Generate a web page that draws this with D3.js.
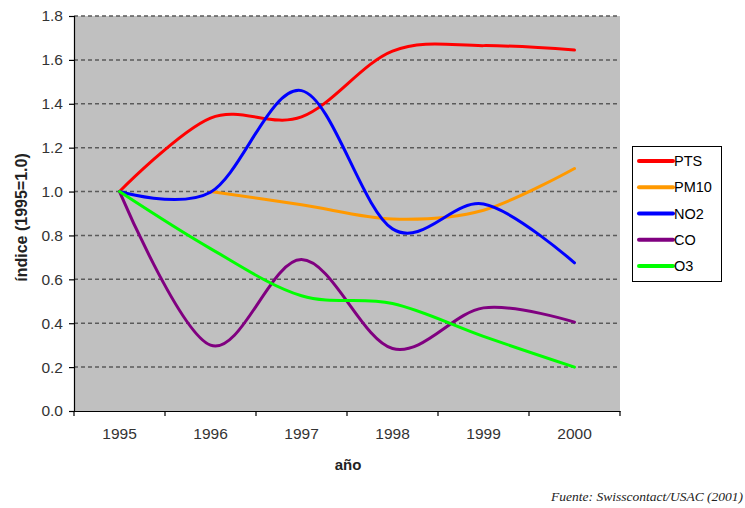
<!DOCTYPE html>
<html>
<head>
<meta charset="utf-8">
<script src="https://cdn.jsdelivr.net/npm/d3@7"></script>
<style>
  html, body { margin: 0; padding: 0; background: #fff; }
  svg { display: block; }
</style>
</head>
<body>
<svg id="chart" width="745" height="508"></svg>
<script>
// ---- data ----
const years = ["1995", "1996", "1997", "1998", "1999", "2000"];
const PTS  = [1.0, 1.335, 1.34, 1.64, 1.665, 1.645];
const PM10 = [null, 1.0, 0.94, 0.875, 0.915, 1.105];
const NO2  = [1.0, 0.997, 1.46, 0.83, 0.943, 0.675];
const CO   = [1.0, 0.30, 0.69, 0.285, 0.47, 0.405];
const O3   = [1.0, 0.74, 0.525, 0.49, 0.34, 0.20];
const seriesNames = ["PTS", "PM10", "NO2", "CO", "O3"];
const seriesColors = ["#ff0000", "#ff9900", "#0000ff", "#800080", "#00ff00"];
const yTicks = [0, 0.2, 0.4, 0.6, 0.8, 1.0, 1.2, 1.4, 1.6, 1.8];
const yTitle = "índice (1995=1.0)";
const xTitle = "año";
const sourceText = "Fuente: Swisscontact/USAC (2001)";

const seriesValues = [PTS, PM10, NO2, CO, O3];

const SANS = "'Liberation Sans', Arial, sans-serif";
const SERIF = "'Liberation Serif', 'Times New Roman', serif";

// ---- layout ----
const svg = d3.select("#chart");
const plot = { left: 74, right: 620, top: 16, bottom: 411 };

const x = d3.scaleBand().domain(years).range([plot.left, plot.right]).padding(0);
const y = d3.scaleLinear().domain([0, 1.8]).range([plot.bottom, plot.top]);
const cx = d => x(d) + x.bandwidth() / 2;

// plot background
svg.append("rect")
  .attr("x", plot.left).attr("y", plot.top)
  .attr("width", plot.right - plot.left).attr("height", plot.bottom - plot.top)
  .attr("fill", "#c0c0c0");

// gridlines
svg.append("g").selectAll("line")
  .data(yTicks.filter(t => t > 0))
  .join("line")
  .attr("x1", plot.left).attr("x2", plot.right)
  .attr("y1", d => y(d)).attr("y2", d => y(d))
  .attr("stroke", "#5a5a5a")
  .attr("stroke-width", 1.5)
  .attr("stroke-dasharray", "4,3");

// y axis
const yAxis = d3.axisLeft(y).tickValues(yTicks).tickFormat(d3.format(".1f")).tickSize(5).tickPadding(6);
const gy = svg.append("g").attr("transform", `translate(${plot.left},0)`).call(yAxis);
gy.select(".domain").attr("stroke", "#000").attr("stroke-width", 1.2);
gy.selectAll(".tick line").attr("stroke", "#000").attr("stroke-width", 1.2);
gy.selectAll(".tick text").style("font-size", "15.5px").style("font-family", SANS).attr("fill", "#333");

// x axis (labels centred on categories, ticks on boundaries)
const xAxis = d3.axisBottom(x).tickSize(0).tickPadding(17);
const gx = svg.append("g").attr("transform", `translate(0,${plot.bottom})`).call(xAxis);
gx.select(".domain").attr("stroke", "#000").attr("stroke-width", 1.2);
gx.selectAll(".tick text").style("font-size", "15.5px").style("font-family", SANS).attr("fill", "#333");
const boundaries = years.map(d => x(d)).concat([x(years[years.length - 1]) + x.bandwidth()]);
svg.append("g").selectAll("line")
  .data(boundaries)
  .join("line")
  .attr("x1", d => d).attr("x2", d => d)
  .attr("y1", plot.bottom).attr("y2", plot.bottom + 5)
  .attr("stroke", "#000").attr("stroke-width", 1.2);

// titles
svg.append("text")
  .attr("transform", `translate(27,${(plot.top + plot.bottom) / 2 + 4}) rotate(-90)`)
  .attr("text-anchor", "middle")
  .style("font-family", SANS).style("font-size", "16px").style("font-weight", "bold")
  .attr("fill", "#222")
  .text(yTitle);

svg.append("text")
  .attr("x", (plot.left + plot.right) / 2 + 1).attr("y", 470)
  .attr("text-anchor", "middle")
  .style("font-family", SANS).style("font-size", "15px").style("font-weight", "bold")
  .attr("fill", "#222")
  .text(xTitle);

// lines
const line = d3.line()
  .x(d => cx(d.year))
  .y(d => y(d.v))
  .curve(d3.curveCatmullRom.alpha(0));

seriesNames.forEach((name, i) => {
  const pts = years.map((yr, j) => ({ year: yr, v: seriesValues[i][j] }));
  svg.append("path")
    .datum(pts.filter(d => d.v !== null))
    .attr("d", line)
    .attr("fill", "none")
    .attr("stroke", seriesColors[i])
    .attr("stroke-width", 3)
    .attr("stroke-linejoin", "round")
    .attr("stroke-linecap", "round");
});

// legend
const lg = svg.append("g");
lg.append("rect")
  .attr("x", 632.5).attr("y", 146.5).attr("width", 89).attr("height", 135)
  .attr("fill", "#fff").attr("stroke", "#000").attr("stroke-width", 1);
const ly = d3.scalePoint().domain(seriesNames).range([161, 266]);
seriesNames.forEach((name, i) => {
  lg.append("line")
    .attr("x1", 639).attr("x2", 673)
    .attr("y1", ly(name)).attr("y2", ly(name))
    .attr("stroke", seriesColors[i]).attr("stroke-width", 4).attr("stroke-linecap", "round");
  lg.append("text")
    .attr("x", 674).attr("y", ly(name) + 5)
    .style("font-family", SANS).style("font-size", "14.5px")
    .attr("fill", "#000")
    .text(name);
});

// source
svg.append("text")
  .attr("x", 743).attr("y", 501)
  .attr("text-anchor", "end")
  .style("font-family", SERIF)
  .style("font-style", "italic")
  .style("font-size", "13.5px")
  .attr("fill", "#222")
  .text(sourceText);
</script>
</body>
</html>
